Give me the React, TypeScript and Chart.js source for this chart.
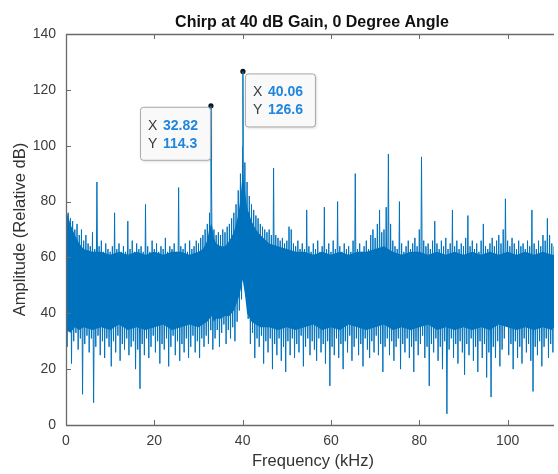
import React, { useEffect, useRef } from "react";
import { Chart, registerables } from "chart.js";

Chart.register(...registerables);

// ---- data ----
const BIN_STEP_KHZ = 0.5; // fringe bins every 0.5 kHz, starting at 0 kHz

// upper edge of the noisy spectrum in each bin (dB)
const upperEnvelope = [
  78, 76, 74, 73, 70, 72, 68, 70, 66, 68,
  65, 64, 69, 63, 87, 64, 66, 62, 65, 63,
  62, 64, 76, 63, 65, 62, 64, 62, 73, 63,
  66, 62, 65, 63, 64, 62, 79, 64, 62, 66,
  63, 65, 62, 64, 63, 67, 62, 64, 63, 65,
  62, 85, 64, 63, 65, 62, 66, 63, 64, 66,
  65, 67, 68, 70, 72, 76, 78, 70, 68, 69,
  68, 70, 69, 71, 72, 74, 76, 79, 84, 90,
  100, 94, 87, 82, 79, 77, 75, 74, 72, 71,
  70, 69, 70, 68, 92, 68, 67, 66, 67, 65,
  66, 71, 70, 65, 64, 66, 63, 65, 63, 77,
  64, 62, 65, 63, 66, 62, 64, 78, 63, 65,
  62, 66, 63, 80, 64, 62, 65, 63, 64, 62,
  66, 90, 63, 65, 62, 64, 66, 63, 68, 70,
  67, 72, 77, 69, 70, 78, 97, 72, 66, 64,
  63, 80, 65, 62, 64, 66, 63, 65, 67, 64,
  70, 96, 66, 64, 65, 63, 66, 73, 65, 63,
  66, 64, 67, 63, 65, 77, 64, 66, 63, 65,
  64, 67, 75, 64, 66, 63, 65, 62, 66, 72,
  64, 63, 65, 67, 64, 66, 68, 65, 70, 81,
  66, 64, 67, 65, 63, 66, 64, 65, 63, 66,
  64, 77, 65, 63, 66, 64, 68, 66, 74, 68,
  65, 64,
];

// lower edge of the noisy spectrum in each bin (dB)
const lowerEnvelope = [
  28, 38, 22, 30, 33, 27, 31, 11, 29, 32,
  26, 31, 8, 28, 32, 25, 30, 24, 31, 28,
  21, 30, 26, 32, 23, 29, 27, 31, 25, 28,
  30, 20, 27, 13, 29, 25, 31, 24, 28, 32,
  26, 30, 22, 29, 27, 31, 21, 28, 32, 25,
  30, 23, 29, 26, 31, 24, 28, 32, 26, 30,
  24, 31, 28, 32, 29, 34, 27, 31, 34, 28,
  33, 36, 29, 34, 31, 35, 30, 37, 41, 45,
  53, 46, 38, 29, 33, 24, 31, 28, 32, 22,
  30, 26, 31, 20, 29, 25, 31, 23, 28, 19,
  30, 25, 31, 24, 29, 26, 32, 21, 28, 31,
  25, 30, 27, 23, 31, 26, 29, 22, 30, 14,
  28, 25, 31, 24, 29, 20, 30, 26, 32, 23,
  28, 31, 25, 29, 21, 31, 27, 24, 30, 26,
  32, 25, 29, 19, 28, 31, 25, 30, 23, 28,
  31, 20, 29, 26, 31, 24, 28, 19, 30, 25,
  29, 32, 24, 28, 14, 29, 26, 31, 23, 28,
  20, 30, 4, 27, 31, 24, 29, 22, 30, 26,
  18, 29, 25, 31, 23, 28, 19, 30, 24, 29,
  17, 26, 10, 28, 24, 30, 21, 27, 31, 40,
  25, 29, 20, 30, 24, 28, 22, 31, 26, 29,
  23, 12, 28, 25, 30, 21, 28, 31, 24, 29,
  26, 30,
];

// dense (solid-looking) core of the noise band
const coreFreqs = [
  0, 1, 2, 3, 4, 6, 8, 10, 12, 14,
  16, 18, 20, 22, 24, 26, 28, 30, 31, 32,
  32.5, 33, 33.5, 34, 35, 36, 37, 38, 39, 39.5,
  40, 40.5, 41, 42, 43, 44, 46, 48, 50, 52,
  54, 56, 58, 60, 62, 64, 66, 68, 70, 72,
  74, 76, 78, 80, 82, 84, 86, 88, 90, 92,
  94, 96, 98, 100, 102, 104, 106, 108, 110, 110.5,
];
const coreTop = [
  77, 72, 68, 65, 63, 62, 62, 61, 62, 61,
  62, 61, 62, 61, 62, 62, 61, 62, 63, 66,
  71, 72, 67, 65, 64, 64, 66, 69, 75, 81,
  90, 84, 78, 73, 70, 68, 65, 64, 63, 62,
  62, 61, 62, 61, 62, 61, 62, 62, 63, 64,
  62, 61, 62, 62, 61, 62, 61, 62, 61, 62,
  61, 62, 61, 62, 61, 62, 61, 62, 61, 61,
];
const coreBottom = [
  34, 33, 35, 34, 35, 34, 35, 34, 36, 34,
  35, 34, 35, 36, 34, 35, 36, 35, 36, 37,
  38, 39, 37, 38, 38, 39, 39, 41, 45, 48,
  52, 47, 40, 37, 36, 35, 35, 34, 35, 34,
  35, 36, 34, 35, 34, 36, 35, 34, 35, 36,
  34, 35, 34, 35, 36, 34, 35, 34, 35, 34,
  35, 34, 36, 35, 34, 35, 34, 35, 34, 35,
];

// marked peaks (data tips)
const peakFreqs = [32.82, 40.06];
const peakAmps = [114.3, 126.6];

const X_TICKS = [0, 20, 40, 60, 80, 100];
const Y_TICKS = [0, 20, 40, 60, 80, 100, 120, 140];
const X_MIN = 0;
const X_MAX = 110.5;
const Y_MIN = 0;
const Y_MAX = 140;

const TITLE = "Chirp at 40 dB Gain, 0 Degree Angle";
const X_TITLE = "Frequency (kHz)";
const Y_TITLE = "Amplitude (Relative dB)";

// ---- styles ----
const FONT = '"Liberation Sans", Arial, Helvetica, sans-serif';
const AXIS_COLOR = "#6a6a6a";
const TICK_TEXT = "#3c3c3c";
const LINE_COLOR = "#0072BD";
const TIP_VALUE = "#1f86de";

function buildSpectrum() {
  const pts: { x: number; y: number }[] = [];
  upperEnvelope.forEach((hi, i) => {
    const f = i * BIN_STEP_KHZ;
    pts.push({ x: f, y: hi });
    pts.push({ x: f + BIN_STEP_KHZ / 2, y: lowerEnvelope[i] });
  });
  peakFreqs.forEach((f, i) => pts.push({ x: f, y: peakAmps[i] }));
  pts.sort((a, b) => a.x - b.x);
  return pts;
}

function roundRect(ctx: CanvasRenderingContext2D, x: number, y: number, w: number, h: number, r: number) {
  ctx.beginPath();
  ctx.moveTo(x + r, y);
  ctx.lineTo(x + w - r, y);
  ctx.quadraticCurveTo(x + w, y, x + w, y + r);
  ctx.lineTo(x + w, y + h - r);
  ctx.quadraticCurveTo(x + w, y + h, x + w - r, y + h);
  ctx.lineTo(x + r, y + h);
  ctx.quadraticCurveTo(x, y + h, x, y + h - r);
  ctx.lineTo(x, y + r);
  ctx.quadraticCurveTo(x, y, x + r, y);
  ctx.closePath();
}

const decorPlugin = {
  id: "matlabDecor",
  afterDraw(chart: any) {
    const { ctx, chartArea: ca, scales } = chart;
    const xs = scales.x;
    const ys = scales.y;
    ctx.save();

    // axes box (left, bottom, top)
    ctx.strokeStyle = AXIS_COLOR;
    ctx.lineWidth = 1.3;
    ctx.beginPath();
    ctx.moveTo(ca.left + 0.5, ca.top);
    ctx.lineTo(ca.left + 0.5, ca.bottom);
    ctx.moveTo(ca.left, ca.bottom + 0.5);
    ctx.lineTo(ca.right, ca.bottom + 0.5);
    ctx.moveTo(ca.left, ca.top + 0.5);
    ctx.lineTo(ca.right, ca.top + 0.5);
    ctx.stroke();

    // inward ticks
    ctx.lineWidth = 1;
    ctx.beginPath();
    const TL = 5;
    X_TICKS.forEach((v) => {
      const px = Math.round(xs.getPixelForValue(v)) + 0.5;
      ctx.moveTo(px, ca.bottom);
      ctx.lineTo(px, ca.bottom - TL);
      ctx.moveTo(px, ca.top);
      ctx.lineTo(px, ca.top + TL);
    });
    Y_TICKS.forEach((v) => {
      const py = Math.round(ys.getPixelForValue(v)) + 0.5;
      ctx.moveTo(ca.left, py);
      ctx.lineTo(ca.left + TL, py);
    });
    ctx.stroke();

    // title
    ctx.fillStyle = "#111";
    ctx.font = `bold 16px ${FONT}`;
    ctx.textAlign = "center";
    ctx.textBaseline = "alphabetic";
    ctx.fillText(TITLE, 312, 27);

    // axis titles
    ctx.fillStyle = "#333";
    ctx.font = `16.5px ${FONT}`;
    ctx.fillText(X_TITLE, 313, 466);
    ctx.save();
    ctx.translate(20, (ca.top + ca.bottom) / 2);
    ctx.rotate(-Math.PI / 2);
    ctx.textBaseline = "middle";
    ctx.fillText(Y_TITLE, 0, 0);
    ctx.restore();

    // data tips
    peakFreqs.forEach((f, i) => {
      const px = xs.getPixelForValue(f);
      const py = ys.getPixelForValue(peakAmps[i]);
      const w = 70;
      const h = 53;
      const left = i === 0 ? px - w - 1 : px + 2;
      const top = i === 0 ? py + 1 : py + 2;
      ctx.save();
      ctx.shadowColor = "rgba(0,0,0,0.18)";
      ctx.shadowBlur = 3;
      ctx.shadowOffsetX = 1;
      ctx.shadowOffsetY = 1;
      roundRect(ctx, left + 0.5, top + 0.5, w, h, 3);
      ctx.fillStyle = "#f9f9f9";
      ctx.fill();
      ctx.restore();
      roundRect(ctx, left + 0.5, top + 0.5, w, h, 3);
      ctx.strokeStyle = "#a8a8a8";
      ctx.lineWidth = 1;
      ctx.stroke();

      ctx.textAlign = "left";
      ctx.textBaseline = "middle";
      ctx.font = `14px ${FONT}`;
      ctx.fillStyle = "#3a3a3a";
      ctx.fillText("X", left + 8, top + 19);
      ctx.fillText("Y", left + 8, top + 37);
      ctx.font = `bold 14px ${FONT}`;
      ctx.fillStyle = TIP_VALUE;
      ctx.fillText(String(f), left + 23, top + 19);
      ctx.fillText(String(peakAmps[i]), left + 23, top + 37);
    });

    ctx.restore();
  },
};

export default function App() {
  const canvasRef = useRef<HTMLCanvasElement | null>(null);

  useEffect(() => {
    const canvas = canvasRef.current;
    if (!canvas) return;
    const spectrum = buildSpectrum();
    const peaks = peakFreqs.map((f, i) => ({ x: f, y: peakAmps[i] }));
    const top = coreFreqs.map((f, i) => ({ x: f, y: coreTop[i] }));
    const bottom = coreFreqs.map((f, i) => ({ x: f, y: coreBottom[i] }));

    const chart = new Chart(canvas, {
      type: "line",
      data: {
        datasets: [
          {
            data: top,
            borderWidth: 0,
            borderColor: "rgba(0,0,0,0)",
            backgroundColor: LINE_COLOR,
            pointRadius: 0,
            tension: 0,
            fill: "+1",
          },
          {
            data: bottom,
            borderWidth: 0,
            borderColor: "rgba(0,0,0,0)",
            pointRadius: 0,
            tension: 0,
            fill: false,
          },
          {
            data: spectrum,
            borderColor: LINE_COLOR,
            borderWidth: 1,
            pointRadius: 0,
            tension: 0,
            fill: false,
          },
          {
            data: peaks,
            showLine: false,
            pointRadius: 2.6,
            pointBackgroundColor: "#111",
            pointBorderColor: "#111",
            pointBorderWidth: 0,
          },
        ],
      },
      options: {
        animation: false,
        responsive: false,
        devicePixelRatio: 1,
        events: [],
        layout: { padding: { top: 34, right: 0, left: 0, bottom: 0 } },
        plugins: {
          legend: { display: false },
          title: { display: false },
          tooltip: { enabled: false },
        },
        scales: {
          x: {
            type: "linear",
            min: X_MIN,
            max: X_MAX,
            position: "bottom",
            afterBuildTicks: (s: any) => {
              s.ticks = X_TICKS.map((v) => ({ value: v }));
            },
            afterFit: (s: any) => {
              s.height = 49;
            },
            grid: { display: false, drawTicks: false },
            border: { display: false },
            ticks: {
              padding: 8,
              color: TICK_TEXT,
              font: { family: FONT, size: 14 },
              maxRotation: 0,
              autoSkip: false,
              callback: (v: any) => String(v),
            },
          },
          y: {
            type: "linear",
            min: Y_MIN,
            max: Y_MAX,
            afterBuildTicks: (s: any) => {
              s.ticks = Y_TICKS.map((v) => ({ value: v }));
            },
            afterFit: (s: any) => {
              s.width = 66;
            },
            grid: { display: false, drawTicks: false },
            border: { display: false },
            ticks: {
              padding: 10,
              color: TICK_TEXT,
              font: { family: FONT, size: 14 },
              autoSkip: false,
              callback: (v: any) => String(v),
            },
          },
        },
      },
      plugins: [decorPlugin],
    } as any);

    return () => chart.destroy();
  }, []);

  return (
    <div style={{ position: "absolute", left: 0, top: 0, width: 558, height: 474, background: "#fff" }}>
      <canvas ref={canvasRef} width={558} height={474} style={{ display: "block", width: 558, height: 474 }} />
    </div>
  );
}
